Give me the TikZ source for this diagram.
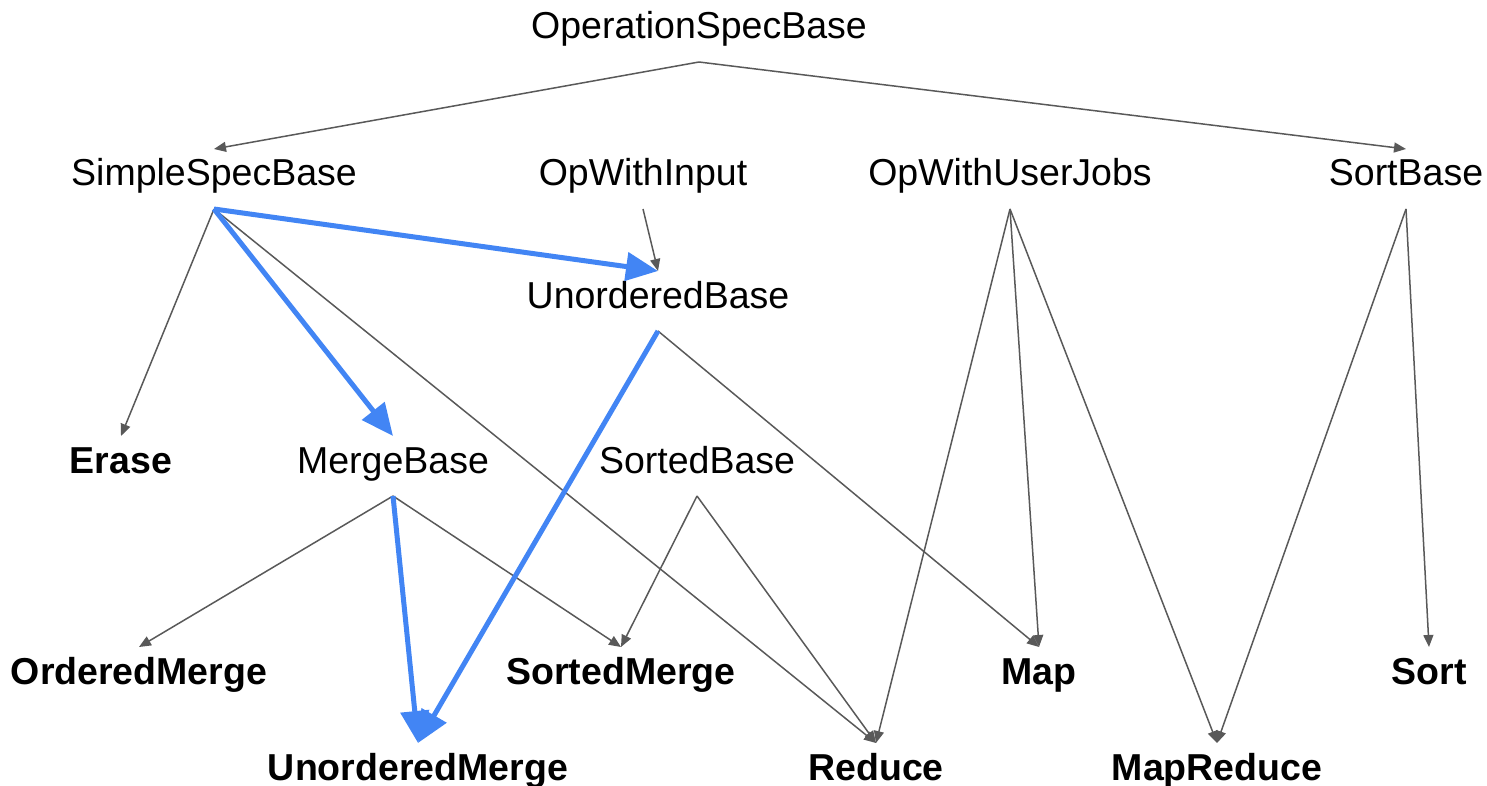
\documentclass[tikz,border=0pt]{standalone}
\usepackage{fontspec}
\setmainfont{Liberation Sans}
\usetikzlibrary{arrows.meta}
\definecolor{linkgray}{HTML}{595959}
\definecolor{hotblue}{HTML}{4285F4}

\begin{document}
\begin{tikzpicture}[x=1pt, y=-1pt,
    cls/.style={anchor=base, inner sep=0pt, outer sep=0pt, text height=37pt, text depth=23pt,
        font=\fontsize{37.5}{42}\selectfont},
    leaf/.style={cls, font=\fontsize{37.5}{42}\selectfont\bfseries},
    link/.style={draw=linkgray, line width=1.5pt, -{Triangle[length=12pt, width=10pt]}, linkgray},
    hot/.style={draw=hotblue, line width=5pt, -{Triangle[length=32pt, width=28pt]}, hotblue}]
    \useasboundingbox (0, 0) rectangle (1487, 786);

    % Base classes
    \node[cls] (ops) at (699, 39) {OperationSpecBase};
    \node[cls] (ssb) at (214, 186) {SimpleSpecBase};
    \node[cls] (owi) at (643, 186) {OpWithInput};
    \node[cls] (owu) at (1010, 186) {OpWithUserJobs};
    \node[cls] (srb) at (1406, 186) {SortBase};
    \node[cls] (unb) at (658, 308) {UnorderedBase};
    \node[cls] (mrb) at (393, 473) {MergeBase};
    \node[cls] (sdb) at (697, 473) {SortedBase};

    % Concrete operations (bold)
    \node[leaf] (erase) at (121, 473) {Erase};
    \node[leaf] (omerge) at (139, 684) {OrderedMerge};
    \node[leaf] (smerge) at (621, 684) {SortedMerge};
    \node[leaf] (map) at (1039, 684) {Map};
    \node[leaf] (sort) at (1429, 684) {Sort};
    \node[leaf] (umerge) at (418, 780) {UnorderedMerge};
    \node[leaf] (reduce) at (876, 780) {Reduce};
    \node[leaf] (mapred) at (1217, 780) {MapReduce};

    % Plain inheritance links
    \draw[link] (ops.south) -- (ssb.north);
    \draw[link] (ops.south) -- (srb.north);
    \draw[link] (ssb.south) -- (erase.north);
    \draw[link] (ssb.south) -- (reduce.north);
    \draw[link] (owi.south) -- (unb.north);
    \draw[link] (unb.south) -- (map.north);
    \draw[link] (mrb.south) -- (omerge.north);
    \draw[link] (mrb.south) -- (smerge.north);
    \draw[link] (sdb.south) -- (smerge.north);
    \draw[link] (sdb.south) -- (reduce.north);
    \draw[link] (owu.south) -- (reduce.north);
    \draw[link] (owu.south) -- (map.north);
    \draw[link] (owu.south) -- (mapred.north);
    \draw[link] (srb.south) -- (sort.north);
    \draw[link] (srb.south) -- (mapred.north);

    % Highlighted path (blue, thick)
    \draw[hot] (ssb.south) -- (unb.north);
    \draw[hot] (ssb.south) -- (mrb.north);
    \draw[hot] (unb.south) -- (umerge.north);
    \draw[hot] (mrb.south) -- (umerge.north);
\end{tikzpicture}
\end{document}
